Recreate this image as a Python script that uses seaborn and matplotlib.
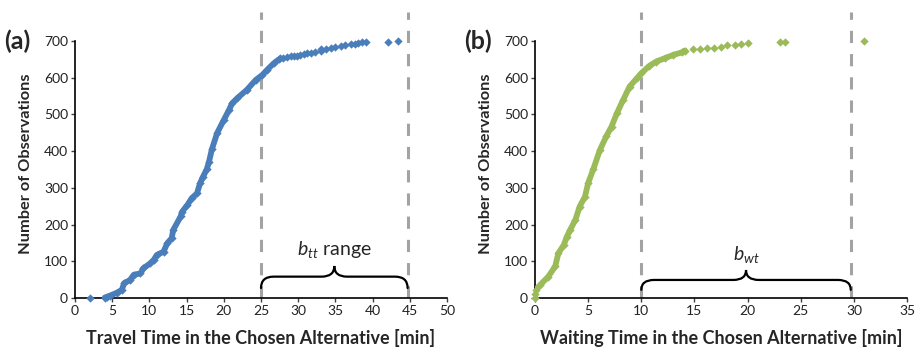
import numpy as np
import pandas as pd
import matplotlib
matplotlib.use("Agg")
import matplotlib.pyplot as plt
from matplotlib.path import Path
from matplotlib.patches import PathPatch
import seaborn as sns

# ---------------- data ----------------
# (a) travel time: sorted value vs. cumulative count
tt_dense_x = [4.0, 4.3, 4.7, 5.6, 6.3, 6.6, 7.4, 7.9, 8.8, 9.2, 10.1, 10.6, 11.0,
              11.9, 12.4, 13.0, 13.2, 14.2, 14.4, 15.1, 15.7, 16.4, 16.8, 17.2, 17.7,
              18.0, 18.4, 19.1, 20.0, 20.7, 21.1, 21.8, 23.1, 24.3, 25.2, 25.8, 26.7, 27.4]
tt_dense_y = [1, 3, 6, 14, 22, 40, 49, 63, 67, 81, 94, 104, 117,
              126, 149, 163, 185, 222, 235, 253, 272, 285, 312, 330, 350,
              370, 405, 449, 485, 512, 530, 544, 567, 594, 608, 621, 639, 650]
tt_tail_x = [2.0, 27.6, 28.0, 28.5, 29.0, 29.4, 29.9, 30.3, 30.8, 31.2, 31.7, 32.3, 33.0,
             33.1, 33.7, 34.4, 34.9, 35.7, 36.3, 37.1, 37.6, 38.0, 38.6, 39.1, 42.0, 43.4]
tt_tail_y = [1, 653, 655, 656, 658, 660, 660, 661, 664, 667, 667, 671, 673,
             678, 678, 680, 683, 687, 689, 691, 693, 695, 696, 697, 698, 699]

# (b) waiting time
wt_dense_x = [0.0, 0.0, 0.05, 0.47, 1.25, 1.9, 2.2, 2.7, 3.0, 3.3, 3.8, 4.2, 4.7, 5.0,
              5.5, 6.1, 6.7, 7.2, 7.7, 8.3, 8.9, 9.6, 10.0, 10.7, 11.4, 12.2, 13.0,
              13.8, 14.1]
wt_dense_y = [1, 10, 22, 35, 58, 86, 122, 144, 167, 185, 213, 249, 276, 313,
              352, 403, 440, 467, 503, 540, 576, 599, 612, 631, 644, 653, 662,
              669, 674]
wt_tail_x = [14.9, 15.5, 16.2, 16.8, 17.5, 18.1, 18.8, 19.4, 20.0, 23.0, 23.5, 30.9]
wt_tail_y = [677, 679, 680, 682, 685, 688, 690, 692, 694, 697, 697, 699]

# parameter ranges marked by dashed lines and braces
btt_range = [25.0, 44.7]
bwt_range = [10.0, 29.7]

panel_labels = ["(a)", "(b)"]
xlabels = ["Travel Time in the Chosen Alternative [min]",
           "Waiting Time in the Chosen Alternative [min]"]
ylabel = "Number of Observations"
xticks_a = [0, 5, 10, 15, 20, 25, 30, 35, 40, 45, 50]
xticks_b = [0, 5, 10, 15, 20, 25, 30, 35]
yticks = [0, 100, 200, 300, 400, 500, 600, 700]

blue = "#4a7ebb"
green = "#9bbb59"
dash_col = "#a3a3a3"

# ---------------- style ----------------
sns.set_style("white")
plt.rcParams["font.family"] = ["Lato", "DejaVu Sans"]
plt.rcParams["mathtext.fontset"] = "custom"
plt.rcParams["mathtext.it"] = "Lato:italic"
plt.rcParams["mathtext.rm"] = "Lato"

fig = plt.figure(figsize=(9.21, 3.53), dpi=100)
ax_a = fig.add_axes([0.0814, 0.156, 0.404, 0.811])
ax_b = fig.add_axes([0.5809, 0.156, 0.404, 0.811])


def brace(ax, x0, x1, y_end, y_mid, y_tip, rx):
    xm = (x0 + x1) / 2
    verts = [(x0, y_end), (x0, y_mid), (x0 + rx, y_mid),
             (xm - rx, y_mid), (xm, y_mid), (xm, y_tip),
             (xm, y_mid), (xm + rx, y_mid),
             (x1 - rx, y_mid), (x1, y_mid), (x1, y_end)]
    codes = [Path.MOVETO, Path.CURVE3, Path.CURVE3,
             Path.LINETO, Path.CURVE3, Path.CURVE3,
             Path.CURVE3, Path.CURVE3,
             Path.LINETO, Path.CURVE3, Path.CURVE3]
    ax.add_patch(PathPatch(Path(verts, codes), fill=False, lw=1.6,
                           edgecolor="black", capstyle="round", clip_on=False, zorder=4))


def draw(ax, dx, dy, tx, ty, col, xmax, xticks, rng, label, xl, brace_y, rx, text, text_pos):
    for v in rng:
        ax.axvline(v, color=dash_col, lw=2.2, dashes=(4.0, 3.6), zorder=1)
    sns.lineplot(x=dx, y=dy, ax=ax, color=col, lw=4.2, sort=False,
                 estimator=None, zorder=3)
    sns.scatterplot(x=dx, y=dy, ax=ax, color=col, marker="D", s=18,
                    linewidth=0, zorder=3, clip_on=False)
    sns.scatterplot(x=tx, y=ty, ax=ax, color=col, marker="D", s=18,
                    linewidth=0, zorder=3, clip_on=False)
    ax.set_xlim(0, xmax)
    ax.set_ylim(0, 780)
    ax.set_xticks(xticks)
    ax.set_yticks(yticks)
    sns.despine(ax=ax)
    ax.spines["left"].set_bounds(0, 700)
    for s in ("left", "bottom"):
        ax.spines[s].set_color("black")
        ax.spines[s].set_linewidth(1.2)
    ax.tick_params(axis="both", direction="out", length=3, width=1.0,
                   color="#404040", labelsize=10, labelcolor="#222222",
                   bottom=True, left=True, pad=2)
    ax.set_xlabel(xl, fontsize=13, fontweight="bold", labelpad=9)
    ax.set_ylabel(ylabel, fontsize=11.8, fontweight="bold")
    ax.yaxis.set_label_coords(-0.113, 0.47)
    ax.text(-0.19, 700, label, transform=ax.get_yaxis_transform(),
            fontsize=18, fontweight="bold", ha="left", va="center")
    brace(ax, rng[0], rng[1], *brace_y, rx)
    ax.text(text_pos[0], text_pos[1], text, fontsize=14, ha="center", va="baseline")


draw(ax_a, tt_dense_x, tt_dense_y, tt_tail_x, tt_tail_y, blue, 50, xticks_a,
     btt_range, panel_labels[0], xlabels[0], (27, 58, 87), 1.7,
     r"$b_{tt}$ range", (34.8, 117))
draw(ax_b, wt_dense_x, wt_dense_y, wt_tail_x, wt_tail_y, green, 35, xticks_b,
     bwt_range, panel_labels[1], xlabels[1], (22, 49, 76), 1.2,
     r"$b_{wt}$", (19.9, 103))

fig.savefig("out.png", dpi=100)
